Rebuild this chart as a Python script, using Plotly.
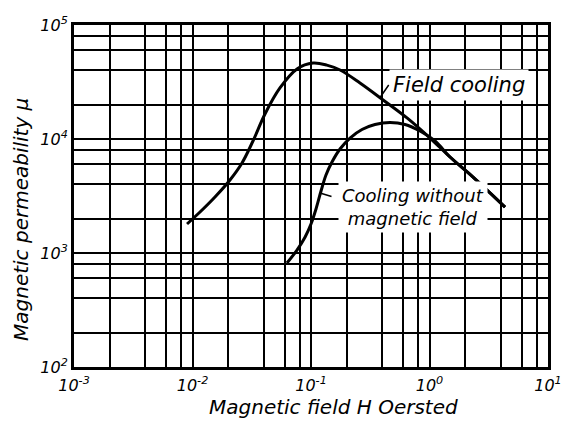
import math
import plotly.graph_objects as go

# Data (H in Oersted, mu dimensionless)
field_cooling_H = [0.00899, 0.01157, 0.01548, 0.02072, 0.02617, 0.03239, 0.0409, 0.0547, 0.0762,
                   0.104, 0.136, 0.176, 0.259, 0.406, 0.646, 1.01, 1.49, 2.33, 4.34]
field_cooling_mu = [1796, 2289, 3099, 4370, 6159, 9605, 16570, 28020, 41120,
                    46400, 44500, 40300, 31000, 22000, 15300, 10200, 6950, 4640, 2530]

no_field_H = [0.0627, 0.0762, 0.089, 0.1, 0.1102, 0.1215, 0.1338, 0.1504, 0.1757, 0.2134, 0.2694,
              0.3468, 0.4642, 0.6212, 0.8312, 1.113, 1.49, 2.33, 4.34]
no_field_mu = [817, 1062, 1376, 1796, 2432, 3499, 4833, 6284, 8172, 10200, 12120,
               13410, 13960, 13410, 11760, 9605, 6950, 4640, 2530]

x_major_vals = [0.001, 0.01, 0.1, 1.0, 10.0]
x_major_text = ["10<sup>-3</sup>", "10<sup>-2</sup>", "10<sup>-1</sup>", "10<sup>0</sup>", "10<sup>1</sup>"]
y_major_vals = [100.0, 1000.0, 10000.0, 100000.0]
y_major_text = ["10<sup>2</sup>", "10<sup>3</sup>", "10<sup>4</sup>", "10<sup>5</sup>"]
grid_mantissas = [2, 4, 6, 8]
x_minor_vals = [m * 10.0 ** e for e in range(-3, 1) for m in grid_mantissas]
y_minor_vals = [m * 10.0 ** e for e in range(2, 5) for m in grid_mantissas]

FONT = "DejaVu Sans"

fig = go.Figure()
fig.add_trace(go.Scatter(x=field_cooling_H, y=field_cooling_mu, mode="lines",
                         line=dict(color="black", width=3, shape="spline", smoothing=1.0),
                         name="Field cooling", showlegend=False))
fig.add_trace(go.Scatter(x=no_field_H, y=no_field_mu, mode="lines",
                         line=dict(color="black", width=3, shape="spline", smoothing=1.0),
                         name="Cooling without magnetic field", showlegend=False))

axis_common = dict(showgrid=True, gridcolor="black", gridwidth=2, showline=True, linecolor="black",
                   linewidth=3, mirror=True, ticks="", zeroline=False, automargin=False,
                   tickfont=dict(family=FONT, size=16, color="black", style="italic"))

fig.update_xaxes(type="log", range=[-3, 1], tickmode="array", tickvals=x_major_vals,
                 ticktext=x_major_text, ticklabelstandoff=2,
                 minor=dict(tickmode="array", tickvals=x_minor_vals, showgrid=True,
                            gridcolor="black", gridwidth=2, ticks=""),
                 **axis_common)
fig.update_yaxes(type="log", range=[2, 5], tickmode="array", tickvals=y_major_vals,
                 ticktext=y_major_text,
                 minor=dict(tickmode="array", tickvals=y_minor_vals, showgrid=True,
                            gridcolor="black", gridwidth=2, ticks=""),
                 **axis_common)

fig.update_layout(
    width=563, height=421,
    margin=dict(l=74, r=15, t=25, b=54),
    paper_bgcolor="white", plot_bgcolor="white",
    font=dict(family=FONT, color="black"),
)

# Axis titles
fig.add_annotation(text="Magnetic field H Oersted", xref="paper", yref="paper",
                   x=(333 - 74) / 474, y=(367 - 407) / 342, showarrow=False,
                   font=dict(family=FONT, size=20, style="italic"), xanchor="center", yanchor="middle")
fig.add_annotation(text="Magnetic permeability \u03bc", xref="paper", yref="paper",
                   x=(21 - 74) / 474, y=(367 - 220) / 342, showarrow=False, textangle=-90,
                   font=dict(family=FONT, size=20, style="italic"), xanchor="center", yanchor="middle")

# Curve labels (annotation positions on log axes are given in log10 units)
fig.add_annotation(text="Field cooling", x=math.log10(0.38), y=4.36, ax=9, ay=-13,
                   showarrow=True, arrowhead=0, arrowwidth=1.5, arrowcolor="black",
                   xanchor="left", yanchor="middle", bgcolor="white", borderpad=3,
                   font=dict(family=FONT, size=21, style="italic"))
fig.add_annotation(text="Cooling without<br>magnetic field", x=-0.139, y=3.404,
                   showarrow=False, xanchor="center", yanchor="middle", bgcolor="white", borderpad=3,
                   font=dict(family=FONT, size=18, style="italic"))
fig.add_annotation(text="", x=-0.924, y=3.526, ax=13, ay=4,
                   showarrow=True, arrowhead=0, arrowwidth=1.5, arrowcolor="black")

fig.write_html("out.html", config={"displayModeBar": False},
               post_script="document.body.style.margin='0';document.body.style.overflow='hidden';")
